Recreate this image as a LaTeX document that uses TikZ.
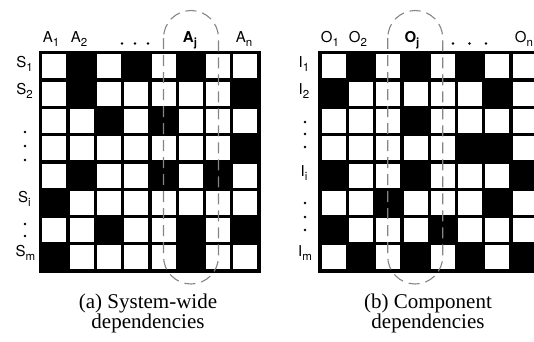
\documentclass[tikz,border=0pt]{standalone}
\usepackage{fontspec}
\setmainfont{Liberation Serif}
\newfontfamily\labfont{TeX Gyre Heros}
% subscript of a matrix label: a little larger than \textsubscript
\newcommand\lsub[1]{\raisebox{-4.3pt}{\fontsize{11.5}{12}\selectfont #1}}
\begin{document}
\begin{tikzpicture}[x=1pt,y=-1pt,
  lab/.style={font=\labfont\fontsize{15}{16}\selectfont, inner sep=0pt, anchor=base},
  captext/.style={font=\fontsize{21}{20.5}\selectfont, align=center, inner sep=0pt, anchor=base},
  capsule/.style={draw=black!48, line width=1.1pt, dash pattern=on 11pt off 6pt, rounded corners=27.5pt},
  gridback/.style={fill=black},
  cellwhite/.style={fill=white}
]
\useasboundingbox (0,0) rectangle (534,341);

% an 8x8 dependency matrix: black frame, white squares where the entry is 0
\newcommand\depmatrix[3]{%
  \fill[gridback] (#1,#2) rectangle +(221.7,221.7);
  \foreach \rowbits [count=\r from 0] in {#3} {
    \foreach \v [count=\c from 0] in \rowbits {
      \ifnum\v=0
        \fill[cellwhite] ({#1+3.3+\c*27.3},{#2+3.3+\r*27.3}) rectangle +(24,24);
      \fi
    }
  }
}

% ---- (a) system-wide dependencies ----
\depmatrix{39}{51}{{0,1,0,1,0,1,0,0},{0,1,0,0,0,0,0,1},{0,0,1,0,1,0,0,0},{0,0,0,0,0,0,0,1},{0,1,0,0,1,0,1,0},{1,0,0,0,0,0,0,0},{0,0,1,0,0,1,0,1},{1,0,0,0,0,1,0,0}}

\node[lab] (a1) at (51,42.5) {A\lsub{1}};
\node[lab] (a2) at (79,42.5) {A\lsub{2}};
\node[lab] (aj) at (190,42.5) {\bfseries A\lsub{\bfseries j}};
\node[lab] (an) at (244,42.5) {A\lsub{n}};
\foreach \x in {122,135,148} \fill (\x,43.5) circle[radius=1.3];

\node[lab] (s1) at (24.5,67.5) {S\lsub{1}};
\node[lab] (s2) at (24.5,94) {S\lsub{2}};
\node[lab] (si) at (24.5,202) {S\lsub{i}};
\node[lab] (sm) at (25.5,256.5) {S\lsub{m}};
\foreach \y in {132,146,160,224,236} \fill (25,\y) circle[radius=1.3];

\draw[capsule] (163.5,10.5) rectangle (218.5,284);

\node[captext] (capa) at (148,328.5) {(a) System-wide\\dependencies};

% ---- (b) component dependencies ----
\depmatrix{318.3}{51}{{0,1,0,1,0,1,0,0},{1,0,0,0,0,0,1,0},{0,0,0,1,0,0,0,0},{0,0,0,0,0,1,1,0},{1,0,0,1,0,0,0,1},{0,0,1,0,0,0,1,0},{1,0,0,0,1,0,0,0},{0,1,0,1,0,1,0,1}}

\node[lab] (o1) at (330,42.5) {O\lsub{1}};
\node[lab] (o2) at (358,42.5) {O\lsub{2}};
\node[lab] (oj) at (412,42.5) {\bfseries O\lsub{\bfseries j}};
\node[lab] (on) at (524,42.5) {O\lsub{n}};
\foreach \x in {453,469.5,486} \fill (\x,43.5) circle[radius=1.3];

\node[lab] (i1) at (304,67.5) {I\lsub{1}};
\node[lab] (i2) at (304,94) {I\lsub{2}};
\node[lab] (ii) at (304,176) {I\lsub{i}};
\node[lab] (im) at (305,256.5) {I\lsub{m}};
\foreach \y in {122,134,147,203,217,230} \fill (305,\y) circle[radius=1.3];

\draw[capsule] (387.7,10.5) rectangle (442.7,284);

\node[captext] (capb) at (428,328.5) {(b) Component\\dependencies};
\end{tikzpicture}
\end{document}
